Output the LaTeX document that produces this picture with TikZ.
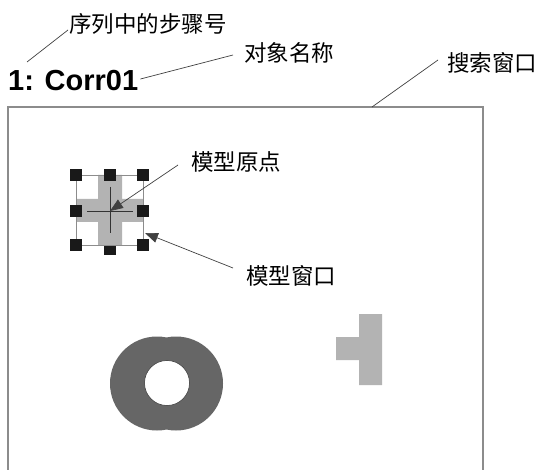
\documentclass[tikz,border=0pt]{standalone}
\usepackage{fontspec}
\setmainfont{Liberation Sans}
\newfontfamily\cjk{Noto Sans CJK SC}
\usetikzlibrary{arrows.meta,positioning}
\definecolor{framegrey}{RGB}{140,140,140}
\definecolor{shapegrey}{RGB}{179,179,179}
\definecolor{ringgrey}{RGB}{102,102,102}

\begin{document}
\begin{tikzpicture}[x=1pt, y=-1pt,
    callout/.style={font=\cjk\fontsize{22.5}{22.5}\selectfont, anchor=west, inner sep=0pt},
    leader/.style={draw=black!75, line width=0.7pt},
    arr/.style={leader, -{Triangle[length=13pt, width=10pt]}},
    handle/.style={rectangle, fill=black!90, minimum size=12pt, inner sep=0pt}
]
    \useasboundingbox (0,0) rectangle (538,470);

    % search window (open at the bottom)
    \draw[framegrey, line width=1.6pt] (8,470) -- (8,107) -- (483,107) -- (483,470);
    \coordinate (swedge) at (372,107);

    % titles and callouts
    \node[anchor=base west, inner sep=0pt, font=\bfseries\fontsize{29}{29}\selectfont] (title) at (8,91) {1: Corr01};
    \node[callout] (stepno) at (69,24) {序列中的步骤号};
    \node[callout] (objname) at (244,53) {对象名称};
    \node[callout] (searchwin) at (447,63) {搜索窗口};
    \node[callout] (origin) at (191,162) {模型原点};
    \node[callout] (modelwin) at (246,276) {模型窗口};

    % model: grey cross with window and handles
    \node[handle] (hbm) at (110,249) {};
    \fill[shapegrey] (98,175) rectangle (122,245) (76,199) rectangle (143,222);
    \draw[framegrey, line width=0.9pt] (76,175) rectangle (143,245);
    \foreach \hx/\hy in {76/175, 110/175, 143/175, 76/211, 143/211, 76/245, 143/245}
        \node[handle] at (\hx,\hy) {};
    \coordinate (centre) at (110,211);
    \coordinate (winedge) at (145,233);
    \draw[black!80, line width=0.6pt] (87,211) -- (133,211) (110,187) -- (110,233);

    % parts in the search window
    \fill[ringgrey] (157,383.5) circle (47) (176,383.5) circle (47);
    \filldraw[fill=white, draw=black!80, line width=0.5pt] (167,383) circle (22.5);
    \fill[shapegrey] (359,314) rectangle (382,385) (336,337) rectangle (359,360);

    % leaders
    \coordinate (stepfoot) at (27,62);
    \draw[leader] (stepfoot) -- ([xshift=-1pt, yshift=-6pt]stepno.west);
    \draw[leader] ([xshift=2pt, yshift=2pt]title.east) -- ([xshift=-11pt, yshift=-2pt]objname.west);
    \draw[leader] (swedge) -- ([xshift=-9pt, yshift=3pt]searchwin.west);
    \draw[arr] ([xshift=-13pt, yshift=-3pt]origin.west) -- (centre);
    \draw[arr] ([xshift=-13pt, yshift=8pt]modelwin.west) -- (winedge);
\end{tikzpicture}
\end{document}
